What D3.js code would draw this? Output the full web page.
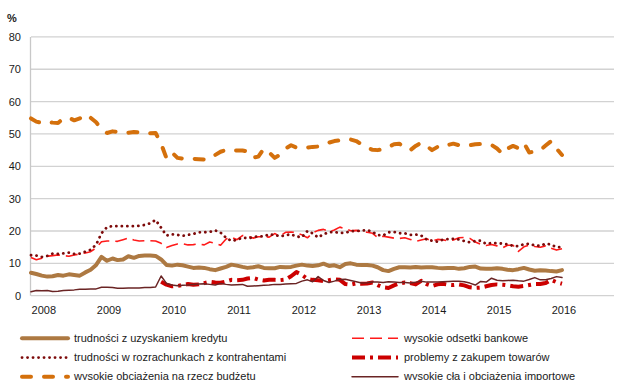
<!DOCTYPE html>
<html>
<head>
<meta charset="utf-8">
<script src="https://cdn.jsdelivr.net/npm/d3@7"></script>
<style>
  body { margin: 0; background: #fff; }
  svg { display: block; }
  text { font-family: "Liberation Sans", Arial, sans-serif; fill: #1a1a1a; }
</style>
</head>
<body>
<svg id="chart" width="624" height="380"></svg>
<script>
// Monthly survey readings, Nov 2007 – Jan 2016 (share of firms, %)
const months = d3.timeMonth.range(new Date(2007, 10, 1), new Date(2016, 1, 1));

const kredyt = [7.1, 6.7, 6.2, 5.9, 6.0, 6.4, 6.2, 6.6, 6.4, 6.2,
  7.2, 8.0, 9.5, 12.0, 10.8, 11.5, 11.0, 11.2, 12.2, 11.7,
  12.3, 12.4, 12.4, 12.3, 11.2, 9.5, 9.3, 9.6, 9.4, 9.0,
  8.6, 8.7, 8.6, 8.2, 7.9, 8.4, 8.9, 9.6, 9.3, 8.9,
  8.6, 8.8, 9.1, 8.6, 8.5, 8.5, 8.9, 8.8, 8.9, 9.3,
  9.6, 9.3, 9.2, 9.4, 9.9, 9.2, 9.4, 8.8, 9.8, 10.0,
  9.6, 9.5, 9.5, 9.3, 8.8, 7.9, 7.6, 8.3, 8.8, 8.8,
  8.7, 8.9, 8.7, 8.8, 8.8, 8.6, 8.5, 8.6, 8.6, 8.3,
  8.5, 8.9, 9.0, 8.4, 8.3, 8.3, 8.5, 8.3, 8.0, 7.9,
  8.2, 8.6, 8.1, 7.7, 7.9, 7.8, 7.6, 7.5, 7.9];

const odsetki = [11.8, 11.1, 11.6, 12.2, 12.4, 12.6, 12.4, 12.2, 12.6, 12.9,
  13.2, 13.6, 14.8, 16.7, 16.9, 16.9, 16.8, 17.3, 17.8, 17.2,
  16.9, 17.0, 17.0, 16.9, 16.2, 14.9, 15.5, 16.0, 16.1, 15.7,
  15.8, 16.0, 15.7, 16.6, 16.2, 15.6, 17.5, 18.1, 17.3, 18.6,
  18.4, 17.8, 18.2, 18.3, 18.1, 19.2, 18.4, 19.6, 19.7, 19.5,
  18.8, 17.9, 19.4, 20.2, 20.5, 19.8, 20.3, 21.2, 20.7, 20.1,
  20.2, 19.8, 19.6, 19.3, 18.0, 18.4, 18.1, 17.8, 17.7, 17.9,
  17.4, 16.8, 17.2, 17.6, 16.9, 17.4, 17.3, 16.9, 17.2, 17.9,
  18.0, 17.7, 16.6, 15.9, 15.5, 15.8, 15.4, 14.8, 15.6, 15.6,
  13.7, 15.1, 15.6, 15.2, 15.0, 15.4, 14.7, 14.1, 14.5];

const rozrachunki = [12.5, 12.4, 12.0, 12.3, 13.0, 12.9, 13.1, 13.3, 12.9, 13.0,
  13.6, 14.2, 15.8, 19.3, 21.2, 21.5, 21.5, 21.5, 21.5, 21.5,
  21.6, 21.9, 22.4, 23.4, 21.0, 18.6, 19.0, 18.8, 18.5, 18.8,
  19.1, 19.6, 19.6, 19.7, 20.2, 19.5, 17.9, 16.9, 17.3, 17.9,
  17.8, 18.0, 18.4, 18.3, 19.0, 18.8, 18.3, 18.7, 19.0, 18.3,
  18.1, 20.0, 19.3, 18.0, 19.0, 19.6, 19.7, 19.4, 19.5, 19.9,
  20.0, 20.1, 20.3, 19.7, 18.8, 18.6, 19.6, 19.7, 19.3, 19.3,
  18.8, 18.9, 18.6, 17.4, 17.0, 16.7, 17.3, 17.5, 17.6, 17.4,
  16.9, 16.5, 16.9, 17.0, 16.0, 16.3, 16.2, 16.1, 15.9, 15.4,
  15.3, 15.9, 16.1, 15.5, 15.4, 16.1, 15.8, 15.0, 15.0];

// series starts in Nov 2009
const zakup = [null, null, null, null, null, null, null, null, null, null,
  null, null, null, null, null, null, null, null, null, null,
  null, null, null, null,
  4.3, 3.4, 2.9, 3.0, 3.3, 3.6, 3.4, 3.5, 3.9, 4.3,
  4.1, 4.0, 4.4, 4.9, 4.8, 4.9, 5.3, 5.5, 5.0, 4.7,
  4.9, 4.9, 4.8, 5.0, 6.0, 7.3, 6.4, 5.2, 4.9, 4.8,
  4.5, 4.8, 5.1, 4.9, 3.6, 3.4, 3.8, 3.7, 3.8, 4.1,
  3.3, 2.6, 2.4, 3.2, 3.8, 4.1, 3.9, 3.5, 4.6, 3.6,
  3.0, 3.5, 3.7, 3.4, 3.3, 3.5, 3.2, 2.6, 2.4, 2.5,
  2.9, 3.3, 3.5, 3.4, 3.2, 2.9, 2.8, 3.0, 3.3, 3.6,
  3.6, 3.9, 4.9, 4.2, 3.7];

const budzet = [54.8, 53.8, 53.4, 53.8, 53.5, 53.4, 54.8, 55.0, 54.2, 54.8,
  56.0, 55.0, 53.6, 51.5, 50.3, 50.8, 50.6, 50.3, 50.4, 50.6,
  50.5, 50.6, 50.2, 50.3, 47.0, 42.5, 44.3, 42.6, 42.4, 42.5,
  42.3, 42.2, 42.1, 42.3, 43.5, 44.5, 45.1, 44.8, 44.9, 44.9,
  44.6, 42.7, 43.0, 45.5, 44.3, 42.6, 43.6, 45.5, 46.5, 45.8,
  45.6, 45.8, 46.0, 46.1, 46.7, 47.3, 47.8, 48.0, 48.4, 48.3,
  47.8, 46.8, 45.8, 45.1, 45.0, 45.3, 46.0, 46.8, 47.0, 45.8,
  45.0, 46.3, 47.3, 46.3, 45.0, 46.0, 46.8, 46.6, 47.0, 46.5,
  46.3, 46.5, 46.8, 46.9, 46.9, 46.6, 45.5, 43.8, 45.5, 46.3,
  45.6, 47.2, 44.3, 44.5, 45.0, 46.4, 47.8, 45.5, 43.5];

const cla = [1.2, 1.6, 1.5, 1.6, 1.3, 1.4, 1.6, 1.7, 1.8, 2.0,
  2.0, 2.1, 2.1, 2.6, 2.6, 2.5, 2.3, 2.3, 2.4, 2.4,
  2.4, 2.5, 2.5, 2.7, 6.1, 3.8, 3.3, 3.1, 3.2, 3.3,
  3.5, 3.6, 3.7, 3.5, 3.3, 3.8, 3.5, 3.3, 3.4, 3.5,
  2.9, 3.0, 3.1, 3.2, 3.3, 3.5, 3.5, 3.6, 3.7, 3.8,
  4.5, 4.9, 4.3, 5.9, 4.7, 4.1, 4.5, 5.0, 5.1, 4.7,
  4.3, 3.9, 4.0, 4.2, 4.2, 4.1, 4.3, 4.2, 4.1, 4.1,
  3.9, 4.2, 4.5, 4.2, 4.2, 4.2, 4.3, 4.4, 4.5, 4.5,
  4.3, 3.9, 3.3, 4.4, 4.2, 5.4, 4.8, 4.6, 4.7, 4.8,
  4.6, 4.5, 5.0, 5.6, 4.9, 4.9, 5.3, 5.9, 5.6];

const yearLabels = ["2008", "2009", "2010", "2011", "2012", "2013", "2014", "2015", "2016"];
const yTicks = [0, 10, 20, 30, 40, 50, 60, 70, 80];

const names = [
  "trudności z uzyskaniem kredytu",
  "wysokie odsetki bankowe",
  "trudności w rozrachunkach z kontrahentami",
  "problemy z zakupem towarów",
  "wysokie obciążenia na rzecz budżetu",
  "wysokie cła i obciążenia importowe"
];

const series = [
  { name: names[0], values: kredyt,      color: "#ad7942", width: 4,   dash: null,        cap: "round" },
  { name: names[1], values: odsetki,     color: "#ff1a1a", width: 1.6, dash: "12,6",      cap: "butt" },
  { name: names[2], values: rozrachunki, color: "#7d0a0a", width: 2.8, dash: "0.1,5.4",   cap: "round" },
  { name: names[3], values: zakup,       color: "#cc0000", width: 4,   dash: "13,5,3,5",  cap: "butt" },
  { name: names[4], values: budzet,      color: "#d4700c", width: 4,   dash: "9,13",      cap: "round" },
  { name: names[5], values: cla,         color: "#6a2424", width: 1.5, dash: null,        cap: "round" }
];

const svg = d3.select("#chart");

const x = d3.scaleTime()
  .domain([months[0], months[months.length - 1]])
  .range([31, 562]);
const y = d3.scaleLinear().domain([0, 80]).range([295.7, 36.9]);

// horizontal gridlines
svg.append("g").selectAll("line").data(yTicks).join("line")
  .attr("x1", 31).attr("x2", 614)
  .attr("y1", d => y(d)).attr("y2", d => y(d))
  .attr("stroke", "#d2d2d2").attr("stroke-width", 1.3);

// left axis line
svg.append("line")
  .attr("x1", 30.5).attr("x2", 30.5)
  .attr("y1", y(80)).attr("y2", y(0))
  .attr("stroke", "#c8c8c8").attr("stroke-width", 1.3);

// y tick labels
svg.append("g").selectAll("text").data(yTicks).join("text")
  .attr("x", 21).attr("y", d => y(d))
  .attr("dy", "0.36em")
  .attr("text-anchor", "end")
  .attr("font-size", 11)
  .text(d => d);

svg.append("text")
  .attr("x", 7).attr("y", 22)
  .attr("font-size", 11).attr("font-weight", "bold")
  .text("%");

// x tick labels at January of each year
svg.append("g").selectAll("text").data(yearLabels).join("text")
  .attr("x", d => x(new Date(+d, 0, 1)) + 2)
  .attr("y", 314)
  .attr("text-anchor", "middle")
  .attr("font-size", 11)
  .text(d => d);

// series lines
const line = d3.line()
  .defined(d => d.v != null)
  .x(d => x(d.t))
  .y(d => y(d.v))
  .curve(d3.curveLinear);

svg.append("g").selectAll("path").data(series).join("path")
  .attr("d", s => line(s.values.map((v, i) => ({ t: months[i], v }))))
  .attr("fill", "none")
  .attr("stroke", s => s.color)
  .attr("stroke-width", s => s.width)
  .attr("stroke-dasharray", s => s.dash)
  .attr("stroke-linecap", s => s.cap)
  .attr("stroke-linejoin", "round");

// legend: two columns, three rows
const legendRows = [338.3, 357.6, 376.7];
const legend = svg.append("g").selectAll("g").data(series).join("g")
  .attr("transform", (s, i) => {
    const col = i % 2, row = Math.floor(i / 2);
    return `translate(${col === 0 ? 22 : 352},${legendRows[row]})`;
  });

legend.append("line")
  .attr("x1", 0).attr("x2", 46).attr("y1", 0).attr("y2", 0)
  .attr("stroke", s => s.color)
  .attr("stroke-width", s => s.width)
  .attr("stroke-dasharray", s => s.dash)
  .attr("stroke-linecap", s => s.cap);

legend.append("text")
  .attr("x", 52).attr("y", 0).attr("dy", "0.33em")
  .attr("font-size", 11)
  .text(s => s.name);
</script>
</body>
</html>
